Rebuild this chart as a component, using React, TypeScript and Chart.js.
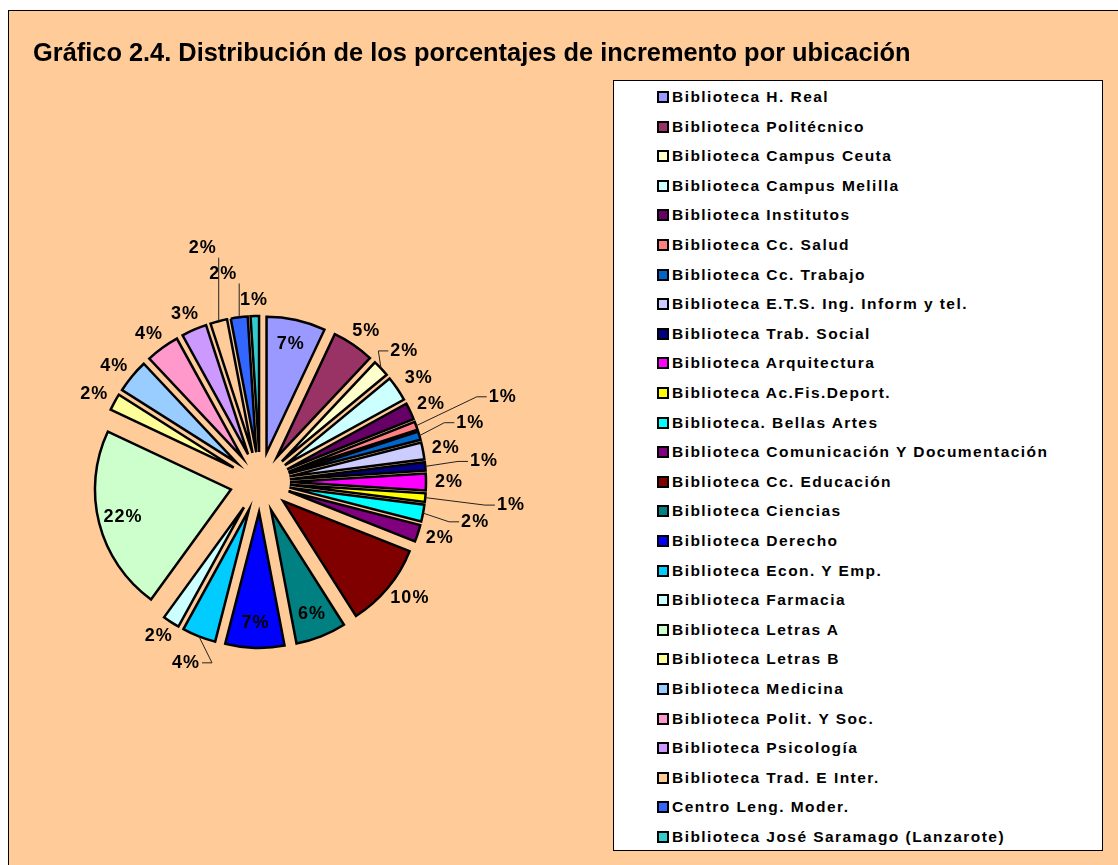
import React, { useEffect, useRef } from 'react';
import { Chart, registerables } from 'chart.js';

Chart.register(...registerables);

const TITLE = 'Gráfico 2.4. Distribución de los porcentajes de incremento por ubicación';

const categories = [
  'Biblioteca H. Real',
  'Biblioteca Politécnico',
  'Biblioteca Campus Ceuta',
  'Biblioteca Campus Melilla',
  'Biblioteca Institutos',
  'Biblioteca Cc. Salud',
  'Biblioteca Cc. Trabajo',
  'Biblioteca E.T.S. Ing. Inform y tel.',
  'Biblioteca Trab. Social',
  'Biblioteca Arquitectura',
  'Biblioteca Ac.Fis.Deport.',
  'Biblioteca. Bellas Artes',
  'Biblioteca Comunicación Y Documentación',
  'Biblioteca Cc. Educación',
  'Biblioteca Ciencias',
  'Biblioteca Derecho',
  'Biblioteca Econ. Y Emp.',
  'Biblioteca Farmacia',
  'Biblioteca Letras A',
  'Biblioteca Letras B',
  'Biblioteca Medicina',
  'Biblioteca Polit. Y Soc.',
  'Biblioteca Psicología',
  'Biblioteca Trad. E Inter.',
  'Centro Leng. Moder.',
  'Biblioteca José Saramago (Lanzarote)',
];

// percentage of increment per location
const values = [7, 5, 2, 3, 2, 1, 1, 2, 1, 2, 1, 2, 2, 10, 6, 7, 4, 2, 22, 2, 4, 4, 3, 2, 2, 1];

const colors = [
  '#9999FF', '#993366', '#FFFFCC', '#CCFFFF', '#660066', '#FF8080', '#0066CC',
  '#CCCCFF', '#000080', '#FF00FF', '#FFFF00', '#00FFFF', '#800080', '#800000',
  '#008080', '#0000FF', '#00CCFF', '#CCFFFF', '#CCFFCC', '#FFFF99', '#99CCFF',
  '#FF99CC', '#CC99FF', '#FFCC99', '#3366FF', '#33CCCC',
];

// slices whose percentage label sits inside the slice
const insideLabelCategories = [
  'Biblioteca H. Real',
  'Biblioteca Ciencias',
  'Biblioteca Derecho',
  'Biblioteca Letras A',
];

const PIE_RADIUS = 136;
const EXPLODE = 30;
const LABEL_FONT = 'bold 18px "Liberation Sans", Arial, sans-serif';

// Chart.js grows / narrows offset arcs; undo that so every slice keeps
// the pie radius and its true angle, and is only translated outward.
const explodeFix = {
  id: 'explodeFix',
  afterDatasetsUpdate(chart: any) {
    const meta = chart.getDatasetMeta(0);
    meta.data.forEach((arc: any) => {
      const T = ((arc.options && arc.options.offset) || EXPLODE * 4) / 4;
      const o = T * (1 - Math.sin(Math.min(Math.PI, arc.circumference)));
      arc.outerRadius = PIE_RADIUS - o;
      const delta = o / (Math.PI * PIE_RADIUS);
      arc.startAngle -= delta / 2;
      arc.endAngle += delta / 2;
    });
  },
};

const pieLabels = {
  id: 'pieLabels',
  afterDatasetsDraw(chart: any) {
    const ctx: CanvasRenderingContext2D = chart.ctx;
    const meta = chart.getDatasetMeta(0);
    ctx.save();
    ctx.font = LABEL_FONT;
    (ctx as any).letterSpacing = '1px';
    ctx.textAlign = 'center';
    ctx.textBaseline = 'middle';
    ctx.fillStyle = '#000';
    const placed: { x0: number; y0: number; x1: number; y1: number }[] = [];
    const overlaps = (b: any) =>
      placed.some((p) => !(b.x1 < p.x0 || b.x0 > p.x1 || b.y1 < p.y0 || b.y0 > p.y1));

    const geo = meta.data.map((arc: any) => {
      const mid = (arc.startAngle + arc.endAngle) / 2;
      const T = ((arc.options && arc.options.offset) || EXPLODE * 4) / 4;
      const ux = Math.cos(mid);
      const uy = Math.sin(mid);
      return { ux, uy, cx: arc.x + ux * T, cy: arc.y + uy * T, R: PIE_RADIUS };
    });

    meta.data.forEach((arc: any, i: number) => {
      if (!insideLabelCategories.includes(categories[i])) return;
      const g = geo[i];
      const text = values[i] + '%';
      ctx.fillText(text, g.cx + g.ux * g.R * 0.82, g.cy + g.uy * g.R * 0.82);
    });

    // placement order: counter-clockwise from the upper-left slices, then the top ones
    const n = meta.data.length;
    const start = n - 4;
    const order: number[] = [];
    for (let k = 0; k < n; k++) order.push((start - k + n) % n);

    order.forEach((i: number) => {
      if (insideLabelCategories.includes(categories[i])) return;
      const g = geo[i];
      const text = values[i] + '%';
      const w = ctx.measureText(text).width;
      const h = 15;
      const base = g.R + 9;
      const atTop = g.uy < -0.9;
      const ex = g.cx + g.ux * g.R;
      const ey = g.cy + g.uy * g.R;
      let d = base;
      const boxAt = (dd: number) => {
        let x = g.cx + g.ux * dd + (g.ux * w) / 2;
        let y = g.cy + g.uy * dd + (g.uy * h) / 2;
        if (atTop && dd > base) {
          const y0 = g.cy + g.uy * base + (g.uy * h) / 2;
          y = y0 - (dd - base);
          x = g.ux < 0 ? ex - w / 2 - 2 : ex + w / 2 + 2;
        }
        return { x, y, x0: x - w / 2 - 3, x1: x + w / 2 + 3, y0: y - h / 2 - 5, y1: y + h / 2 + 5 };
      };
      let b = boxAt(d);
      while (overlaps(b) && d < base + 160) {
        d += 3;
        b = boxAt(d);
      }
      placed.push(b);
      ctx.fillText(text, b.x, b.y);
      if (d - base > 8) {
        ctx.beginPath();
        ctx.strokeStyle = '#222';
        ctx.lineWidth = 1;
        if (atTop) {
          ctx.moveTo(ex, ey);
          ctx.lineTo(ex, b.y + h / 2 + 2);
        } else {
          const right = g.ux >= 0;
          const ax = right ? b.x0 + 1 : b.x1 - 1;
          const elbowX = right ? ax - 10 : ax + 10;
          ctx.moveTo(ex, ey);
          ctx.lineTo(elbowX, b.y);
          ctx.lineTo(ax, b.y);
        }
        ctx.stroke();
      }
    });
    ctx.restore();
  },
};

export default function App() {
  const canvasRef = useRef<HTMLCanvasElement | null>(null);

  useEffect(() => {
    if (!canvasRef.current) return;
    const chart = new Chart(canvasRef.current, {
      type: 'pie',
      data: {
        labels: categories,
        datasets: [
          {
            data: values,
            backgroundColor: colors,
            borderColor: '#000000',
            borderWidth: 2.5,
            borderJoinStyle: 'miter',
            offset: EXPLODE * 4,
          } as any,
        ],
      },
      options: {
        responsive: false,
        animation: false,
        devicePixelRatio: 1,
        radius: PIE_RADIUS,
        layout: { padding: { left: 20, right: 618, top: 150, bottom: 51 } },
        plugins: {
          legend: { display: false },
          tooltip: { enabled: false },
          title: { display: false },
        },
        events: [],
      } as any,
      plugins: [explodeFix, pieLabels],
    });
    return () => chart.destroy();
  }, []);

  const rowTop = (i: number) => 16 + i * 29.6 - 10;

  return (
    <div style={{ position: 'fixed', left: 0, top: 0, width: 1118, height: 865, background: '#fff', overflow: 'hidden' }}>
      <div
        style={{
          position: 'absolute',
          left: 8,
          top: 10,
          width: 1110,
          height: 855,
          background: '#FFCC99',
          borderLeft: '1px solid #000',
          borderTop: '1px solid #000',
          boxSizing: 'border-box',
        }}
      />
      <canvas ref={canvasRef} width={1118} height={865} style={{ position: 'absolute', left: 0, top: 0, width: 1118, height: 865 }} />
      <div
        style={{
          position: 'absolute',
          left: 33,
          top: 39,
          font: 'bold 25.4px "Liberation Sans", Arial, sans-serif',
          lineHeight: '26px',
          color: '#000',
          whiteSpace: 'nowrap',
        }}
      >
        {TITLE}
      </div>
      <div
        style={{
          position: 'absolute',
          left: 613,
          top: 80,
          width: 490,
          height: 771,
          background: '#fff',
          border: '1.5px solid #000',
          boxSizing: 'border-box',
        }}
      >
        {categories.map((c, i) => (
          <div
            key={c}
            style={{
              position: 'absolute',
              left: 43,
              top: rowTop(i),
              height: 20,
              display: 'flex',
              alignItems: 'center',
              whiteSpace: 'nowrap',
            }}
          >
            <span
              style={{
                display: 'inline-block',
                width: 12,
                height: 12,
                background: colors[i],
                border: '2px solid #000',
                boxSizing: 'border-box',
                marginRight: 3,
              }}
            />
            <span
              style={{
                font: 'bold 15.5px "Liberation Sans", Arial, sans-serif',
                letterSpacing: '1.45px',
                color: '#000',
              }}
            >
              {c}
            </span>
          </div>
        ))}
      </div>
    </div>
  );
}
